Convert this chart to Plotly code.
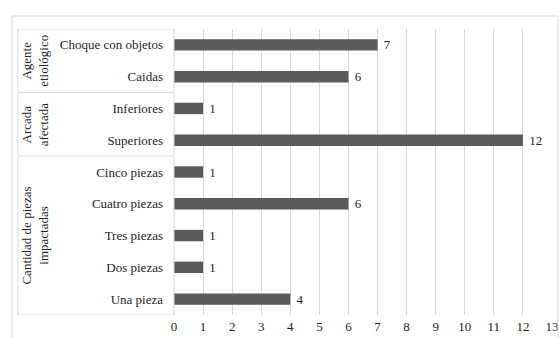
import plotly.graph_objects as go

# Categories listed bottom to top
categorias = ["Una pieza", "Dos piezas", "Tres piezas", "Cuatro piezas", "Cinco piezas",
              "Superiores", "Inferiores", "Caidas", "Choque con objetos"]
valores = [4, 1, 1, 6, 1, 12, 1, 6, 7]

# Groups: (label, first index, last index)
grupos = [("Cantidad de piezas<br>impactadas", 0, 4),
          ("Arcada<br>afectada", 5, 6),
          ("Agente<br>etiológico", 7, 8)]

x_ticks = list(range(0, 14))

FONT = "Times New Roman"
FS = 13
TXT = "#262626"
BAR = "#5a5a5a"
GRID = "#d9d9d9"

W, H = 559, 338
L, R, T, B = 174, 7, 29, 23
pw = W - L - R
ph = H - T - B


def px_x(p):
    return (p - L) / pw


def px_y(p):
    return (H - B - p) / ph


fig = go.Figure(go.Bar(
    x=valores, y=list(range(len(categorias))), orientation="h",
    marker=dict(color=BAR, line=dict(width=0)),
    width=0.36,
    text=[" " + str(v) for v in valores], textposition="outside",
    textfont=dict(family=FONT, size=FS, color=TXT),
    constraintext="none",
    cliponaxis=False,
))

shapes = []
# outer frame
shapes.append(dict(type="rect", xref="paper", yref="paper",
                   x0=px_x(12), x1=px_x(558), y0=px_y(345), y1=px_y(16),
                   line=dict(color=GRID, width=1)))
# category table box
bx0, bx1 = px_x(18), 0
for yv in [-0.5, 4.5, 6.5, 8.5]:
    shapes.append(dict(type="line", xref="paper", yref="y",
                       x0=bx0, x1=bx1, y0=yv, y1=yv,
                       line=dict(color=GRID, width=1)))
for xv in [bx0, bx1]:
    shapes.append(dict(type="line", xref="paper", yref="y",
                       x0=xv, x1=xv, y0=-0.5, y1=8.5,
                       line=dict(color=GRID, width=1)))

annotations = []
for label, a, b in grupos:
    annotations.append(dict(text=label, xref="paper", yref="y",
                            x=px_x(35), y=(a + b) / 2, showarrow=False,
                            textangle=-90, xanchor="center", yanchor="middle",
                            font=dict(family=FONT, size=FS, color=TXT)))

fig.update_layout(
    width=W, height=H,
    margin=dict(l=L, r=R, t=T, b=B, autoexpand=False),
    paper_bgcolor="white", plot_bgcolor="white",
    showlegend=False,
    font=dict(family=FONT, size=FS, color=TXT),
    shapes=shapes, annotations=annotations,
    xaxis=dict(range=[0, 13], tickvals=x_ticks, ticktext=[str(t) for t in x_ticks],
               showgrid=True, gridcolor=GRID, gridwidth=1, zeroline=False,
               showline=False, ticks="", ticklabelstandoff=2, automargin=False,
               tickfont=dict(family=FONT, size=FS, color=TXT)),
    yaxis=dict(range=[-0.5, 8.5], tickvals=list(range(len(categorias))),
               ticktext=categorias, showgrid=False, zeroline=False,
               showline=False, ticks="", ticklabelstandoff=10, automargin=False,
               tickfont=dict(family=FONT, size=FS, color=TXT)),
)

fig.write_html("out.html")
